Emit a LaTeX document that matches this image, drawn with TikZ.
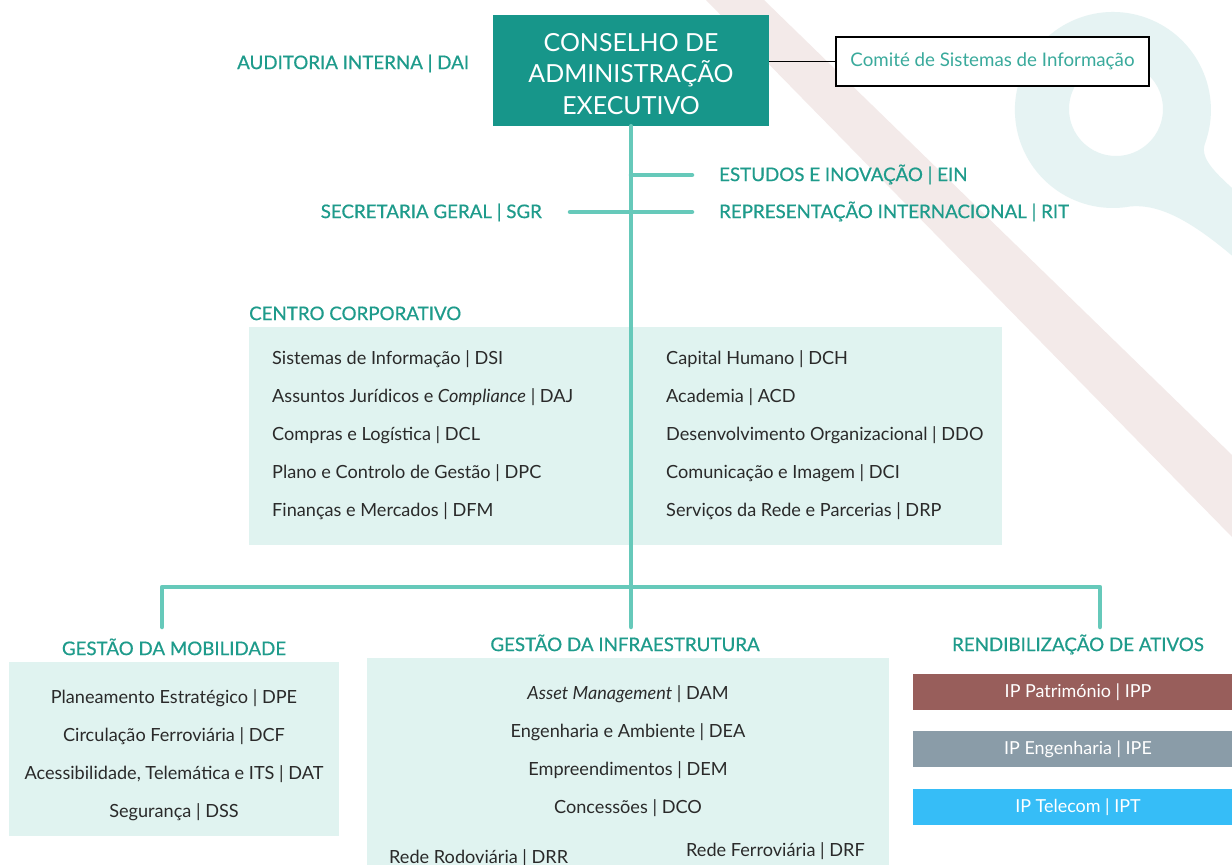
\documentclass[tikz,border=0pt]{standalone}
\usepackage{fontspec}
\setmainfont{Lato}
\newfontfamily\headfont[FakeBold=0.6]{Lato}
\definecolor{boardteal}{HTML}{17968A}
\definecolor{linkteal}{HTML}{66C9BA}
\definecolor{headteal}{HTML}{1E9B8B}
\definecolor{lightteal}{HTML}{E0F3F0}
\definecolor{comiteteal}{HTML}{3AAA9C}
\definecolor{bodygrey}{HTML}{2A2A2A}
\definecolor{keyteal}{HTML}{E6F3F3}
\definecolor{stripepink}{HTML}{F3EAE9}
\definecolor{ippred}{HTML}{985E5B}
\definecolor{ipegrey}{HTML}{8A9CA8}
\definecolor{iptblue}{HTML}{36BDF7}
\begin{document}
\begin{tikzpicture}[x=1bp,y=-1bp,
  txt/.style={inner sep=0pt, text height=0.72em, text depth=0pt, yshift=-2.5bp},
  head/.style={txt, text=headteal, font=\headfont\fontsize{18.8}{22}\selectfont},
  item/.style={txt, text=bodygrey, font=\fontsize{18.2}{22}\selectfont},
  panel/.style={fill=lightteal, draw=none, inner sep=0pt},
  link/.style={draw=linkteal, line width=4.5bp, line cap=round, line join=round},
  ipbox/.style={inner sep=0pt, minimum width=330bp, minimum height=36bp, text=white, font=\fontsize{18}{22}\selectfont}
]
\useasboundingbox (0,0) rectangle (1232,865);
\clip (0,0) rectangle (1232,865);
\fill[white] (0,0) rectangle (1232,865);
% background decoration
\fill[stripepink] (706,0) -- (764,0) -- (1232,455) -- (1232,537) -- cycle;
\fill[keyteal, even odd rule] (1205,143.5) arc[start angle=20, end angle=-280, radius=98]
  .. controls (1165,203) and (1205,228) .. (1270,290) -- (1270,225) -- (1250,205)
  .. controls (1225,180) and (1198,162) .. (1205,143.5) -- cycle
  (1116,109) circle[radius=47];

% panels
\node[panel, minimum width=753bp, minimum height=218bp] (cc) at (625.5,436) {};
\node[panel, minimum width=330bp, minimum height=174bp] (mob) at (174,749) {};
\node[panel, minimum width=522bp, minimum height=220bp] (inf) at (628,768) {};
\node[ipbox, fill=ippred] (ipp) at (1078,692) {IP Património | IPP};
\node[ipbox, fill=ipegrey] (ipe) at (1078,749) {IP Engenharia | IPE};
\node[ipbox, fill=iptblue] (ipt) at (1078,807) {IP Telecom | IPT};

% top boxes
\node[minimum width=276bp, minimum height=111bp, fill=boardteal, inner sep=0pt] (board) at (631,70.5) {};
\node[text=white, align=center, font=\fontsize{25}{31.5}\selectfont, inner sep=0pt] (boardtxt) at (631,74)
  {CONSELHO DE\\ADMINISTRAÇÃO\\EXECUTIVO};
\node[draw=black, line width=1.2bp, fill=white, minimum width=313bp, minimum height=49bp, inner sep=0pt,
  text=comiteteal, font=\fontsize{18.8}{22}\selectfont] (comite) at (992.5,61.5) {Comité de Sistemas de Informação};
\draw[black, line width=1bp] (comite.west) -- (comite.west -| board.east);

% staff units
\node[head, anchor=west] (dai) at (237,63) {AUDITORIA INTERNA | DAI};
\node[head, anchor=west] (ein) at (719,175) {ESTUDOS E INOVAÇÃO | EIN};
\node[head, anchor=west] (rit) at (719,212) {REPRESENTAÇÃO INTERNACIONAL | RIT};
\node[head, anchor=east] (sgr) at (542,212) {SECRETARIA GERAL | SGR};

% headings
\node[head, anchor=west] (cch) at (249,314) {CENTRO CORPORATIVO};
\node[head] (mobh) at (174,649) {GESTÃO DA MOBILIDADE};
\node[head] (infh) at (625,645) {GESTÃO DA INFRAESTRUTURA};
\node[head] (renh) at (1078,645) {RENDIBILIZAÇÃO DE ATIVOS};

% connectors
\coordinate (trunkend) at (631,627);
\coordinate (busy) at (631,587);
\coordinate (mobtop) at (162,627);
\coordinate (rentop) at (1100,627);
\coordinate (einy) at (631,175);
\coordinate (rity) at (631,212);
\draw[link] (einy) -- ([xshift=-27bp]einy -| ein.west);
\draw[link] ([xshift=28bp]rity -| sgr.east) -- ([xshift=-27bp]rity -| rit.west);
\draw[link] (board.south) -- (trunkend);
\draw[link] (mobtop) -- (mobtop |- busy) -- (rentop |- busy) -- (rentop);

% centro corporativo items
\node[item, anchor=west] (dsi) at (272,358) {Sistemas de Informação | DSI};
\node[item, anchor=west] (daj) at (272,396) {Assuntos Jurídicos e \textit{Compliance} | DAJ};
\node[item, anchor=west] (dcl) at (272,434) {Compras e Logística | DCL};
\node[item, anchor=west] (dpc) at (272,472) {Plano e Controlo de Gestão | DPC};
\node[item, anchor=west] (dfm) at (272,510) {Finanças e Mercados | DFM};
\node[item, anchor=west] (dch) at (666,358) {Capital Humano | DCH};
\node[item, anchor=west] (acd) at (666,396) {Academia | ACD};
\node[item, anchor=west] (ddo) at (666,434) {Desenvolvimento Organizacional | DDO};
\node[item, anchor=west] (dci) at (666,472) {Comunicação e Imagem | DCI};
\node[item, anchor=west] (drp) at (666,510) {Serviços da Rede e Parcerias | DRP};

% mobilidade items
\node[item] (dpe) at (174,697) {Planeamento Estratégico | DPE};
\node[item] (dcf) at (174,735) {Circulação Ferroviária | DCF};
\node[item] (dat) at (174,773) {Acessibilidade, Telemática e ITS | DAT};
\node[item] (dss) at (174,811) {Segurança | DSS};

% infraestrutura items
\node[item] (dam) at (628,693) {\textit{Asset Management} | DAM};
\node[item] (dea) at (628,731) {Engenharia e Ambiente | DEA};
\node[item] (dem) at (628,769) {Empreendimentos | DEM};
\node[item] (dco) at (628,807) {Concessões | DCO};
\node[item, anchor=west] (drr) at (389,857) {Rede Rodoviária | DRR};
\node[item, anchor=west] (drf) at (686,850) {Rede Ferroviária | DRF};
\end{tikzpicture}
\end{document}
